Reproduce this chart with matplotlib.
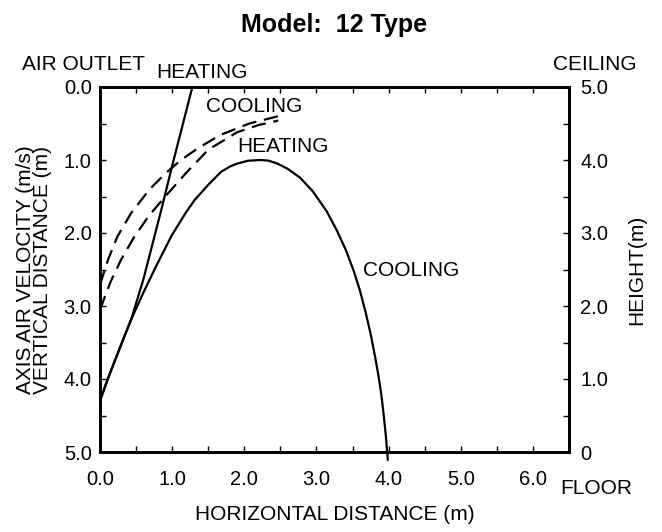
import matplotlib
matplotlib.use("Agg")
import matplotlib.pyplot as plt
from matplotlib.ticker import MultipleLocator, FormatStrFormatter

plt.rcParams["font.family"] = ["Liberation Sans", "DejaVu Sans"]

# ===============================
# DATA
# ===============================
# solid trajectory (peaks near 1.0 m below the outlet, lands at ~4 m)
traj_x = [0.00, 0.10, 0.21, 0.32, 0.43, 0.60, 0.77, 0.99, 1.19, 1.31, 1.50,
          1.68, 1.80, 1.90, 2.05, 2.23, 2.34, 2.46, 2.60, 2.77, 2.95, 3.14,
          3.28, 3.41, 3.52, 3.60, 3.68, 3.75, 3.81, 3.86, 3.90, 3.93, 3.96,
          3.98, 3.99]
traj_y = [4.30, 4.02, 3.74, 3.46, 3.19, 2.82, 2.47, 2.04, 1.72, 1.55, 1.34,
          1.16, 1.09, 1.05, 1.01, 1.00, 1.01, 1.05, 1.12, 1.24, 1.43, 1.70,
          1.96, 2.24, 2.53, 2.78, 3.08, 3.38, 3.68, 3.96, 4.22, 4.48, 4.76,
          5.00, 5.12]

# solid near-straight heating line
heat_x = [0.00, 0.10, 0.21, 0.32, 0.43, 0.60, 0.72, 0.85, 1.00, 1.14, 1.28]
heat_y = [4.30, 4.02, 3.74, 3.46, 3.19, 2.64, 2.18, 1.68, 1.08, 0.54, 0.00]

# dashed velocity curves
cool1_x = [0.00, 0.11, 0.24, 0.43, 0.68, 0.90, 1.11, 1.34, 1.66, 2.07, 2.47]
cool1_y = [2.71, 2.37, 2.05, 1.73, 1.41, 1.19, 1.01, 0.85, 0.66, 0.50, 0.40]

cool2_x = [0.00, 0.15, 0.29, 0.47, 0.68, 0.94, 1.20, 1.50, 1.90, 2.20, 2.47]
cool2_y = [3.05, 2.66, 2.37, 2.06, 1.76, 1.46, 1.17, 0.86, 0.62, 0.52, 0.46]

x_ticks = [0, 1, 2, 3, 4, 5, 6]
left_ticks = [0, 1, 2, 3, 4, 5]
right_ticks = [0, 1, 2, 3, 4, 5]
right_labels = ["0", "1.0", "2.0", "3.0", "4.0", "5.0"]

W, H = 662, 532
fig = plt.figure(figsize=(W / 100, H / 100), dpi=100)
ax = fig.add_axes([100 / W, 1 - 452 / H, 469 / W, 365 / H])

ax.plot(traj_x, traj_y, color="black", lw=1.6, clip_on=False,
        solid_capstyle="butt", solid_joinstyle="round")
ax.plot(heat_x, heat_y, color="black", lw=1.6, solid_capstyle="butt")
ax.plot(cool1_x, cool1_y, color="black", lw=1.6, dashes=(6.5, 3.5))
ax.plot(cool2_x, cool2_y, color="black", lw=1.6, dashes=(6.5, 3.5))

ax.set_xlim(0, 6.5)
ax.set_ylim(5, 0)

ax.set_xticks(x_ticks)
ax.xaxis.set_major_formatter(FormatStrFormatter("%.1f"))
ax.xaxis.set_minor_locator(MultipleLocator(0.5))
ax.set_yticks(left_ticks)
ax.yaxis.set_major_formatter(FormatStrFormatter("%.1f"))
ax.yaxis.set_minor_locator(MultipleLocator(0.5))

ax.tick_params(axis="both", which="both", direction="in", length=4,
               width=1, top=True, labelsize=14.5)
ax.tick_params(axis="x", which="major", pad=13)
ax.tick_params(axis="y", which="major", pad=6)

ax2 = ax.twinx()
ax2.set_ylim(0, 5)
ax2.set_yticks(right_ticks)
ax2.set_yticklabels(right_labels)
ax2.yaxis.set_minor_locator(MultipleLocator(0.5))
ax2.tick_params(axis="y", which="both", direction="in", length=4, width=1,
                labelsize=14.5)
ax2.tick_params(axis="y", which="major", pad=8)

for a in (ax, ax2):
    for s in a.spines.values():
        s.set_linewidth(2)

# labels
ax.set_xlabel("HORIZONTAL DISTANCE (m)", fontsize=15)
ax.xaxis.set_label_coords(0.5, -(515 - 452) / 365, transform=ax.transAxes)
ax.xaxis.label.set_va("center")

ax.set_ylabel("AXIS AIR VELOCITY (m/s)\nVERTICAL DISTANCE (m)", fontsize=15,
              linespacing=0.87)
ax.yaxis.set_label_coords(-(100 - 34) / 469, 0.5)
ax.yaxis.label.set_va("center")

ax2.set_ylabel("HEIGHT(m)", fontsize=15)
ax2.yaxis.set_label_coords((637 - 100) / 469, 0.5)
ax2.yaxis.label.set_va("center")

# annotations
ax.text(1.41, -0.2, "HEATING", fontsize=15, ha="center", va="center",
        clip_on=False)
ax.text(2.14, 0.27, "COOLING", fontsize=15, ha="center", va="center")
ax.text(2.53, 0.81, "HEATING", fontsize=15, ha="center", va="center")
ax.text(4.31, 2.51, "COOLING", fontsize=15, ha="center", va="center")

fig.text(83 / W, 1 - 64 / H, "AIR OUTLET", fontsize=15, ha="center",
         va="center")
fig.text(595 / W, 1 - 64 / H, "CEILING", fontsize=15, ha="center",
         va="center")
fig.text(596 / W, 1 - 488 / H, "FLOOR", fontsize=15, ha="center",
         va="center")
fig.text(334 / W, 1 - 25 / H, "Model:  12 Type", fontsize=18,
         fontweight="bold", ha="center", va="center")

fig.savefig("out.png", dpi=100)
